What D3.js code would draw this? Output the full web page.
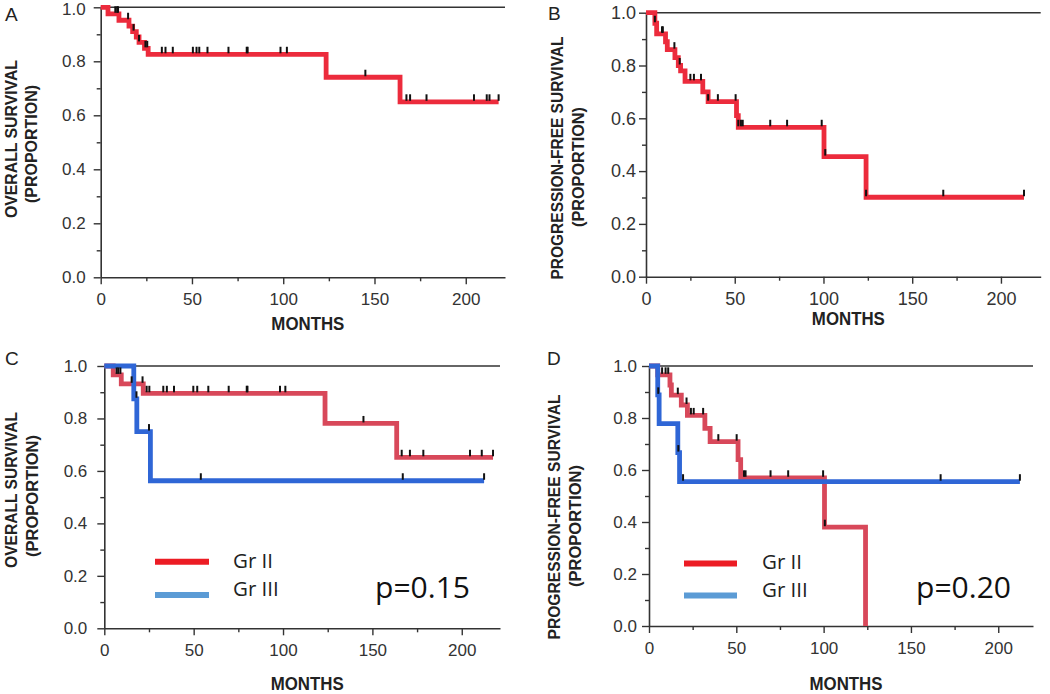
<!DOCTYPE html>
<html><head><meta charset="utf-8">
<script src="https://cdn.jsdelivr.net/npm/d3@7"></script>
<style>body{margin:0;background:#fff} svg{display:block}</style>
</head><body>
<svg id="chart" width="1050" height="694"></svg>
<script>
// ================= DATA =================
const xTickValues = [0, 50, 100, 150, 200];
const xMinorTicks = [25, 75, 125, 175];
const yTickValues = [0, 0.2, 0.4, 0.6, 0.8, 1.0];
const yMinorTicks = [0.1, 0.3, 0.5, 0.7, 0.9];
const legendLabels = ["Gr II", "Gr III"];
const pValues = ["p=0.15", "p=0.20"];
const panelLetters = ["A", "B", "C", "D"];
const xTitle = "MONTHS";
const yTitlesOS = ["OVERALL SURVIVAL", "(PROPORTION)"];
const yTitlesPFS = ["PROGRESSION-FREE SURVIVAL", "(PROPORTION)"];

// Panel A – overall survival, all patients
const osAllTimes = [4, 10, 15.5, 17.5, 19.5, 21, 24, 26, 123.5, 164];
const osAllSurv  = [0.976, 0.952, 0.93, 0.91, 0.89, 0.87, 0.848, 0.826, 0.741, 0.650];
const osAllEnd = 218;
const osAllCensor = [8, 9, 9.5, 15, 18, 21, 24.5, 25.5, 33.5, 35.5, 39.5, 50.5, 52.5, 54, 58.5, 70, 80, 80.5, 98.5, 102, 145, 167.5, 169.5, 178.5, 204.5, 211.5, 213, 218];

// Panel B – progression-free survival, all patients
const pfsAllTimes = [5, 6, 11, 12, 16.3, 18.2, 19.5, 22, 32, 35, 51, 52, 100.3, 124];
const pfsAllSurv  = [0.96, 0.92, 0.89, 0.86, 0.83, 0.80, 0.78, 0.74, 0.70, 0.663, 0.61, 0.566, 0.455, 0.301];
const pfsAllEnd = 213;
const pfsAllCensor = [5, 9, 9.5, 16, 19, 25, 27, 31, 35, 40.5, 50.5, 52, 53.5, 54.5, 70, 79.5, 99, 101, 124, 167.5, 213];

// Panel C – overall survival by grade
const osG2Times = [5, 9.5, 21.8, 123.5, 163.6];
const osG2Surv  = [0.966, 0.932, 0.896, 0.781, 0.652];
const osG2End = 217.5;
const osG2Censor = [6.9, 7.8, 9, 15.3, 21.4, 23.7, 25.2, 33, 35, 39, 49.8, 52, 58.2, 69.6, 79.7, 80.1, 98.3, 101.3, 145, 166.4, 171, 178.5, 204.6, 211.2, 217.5];
const osG3Times = [16.5, 18.2, 25.8];
const osG3Surv  = [0.875, 0.75, 0.5625];
const osG3End = 212.5;
const osG3Censor = [18, 25, 54, 167, 212.5];

// Panel D – progression-free survival by grade
const pfsG2Times = [5, 12, 12.8, 18.5, 22, 32, 35, 51, 52.5, 100.5, 124];
const pfsG2Surv  = [0.966, 0.927, 0.888, 0.85, 0.81, 0.76, 0.709, 0.64, 0.57, 0.38, 0];
const pfsG2End = 124;
const pfsG2Censor = [7.5, 9.5, 11, 16.5, 21.5, 24, 25.6, 31, 39.7, 50.2, 54.4, 55.3, 69.6, 79.7, 99.7, 100.7];
const pfsG3Times = [5, 5.8, 16.5, 17.5];
const pfsG3Surv  = [0.889, 0.778, 0.667, 0.555];
const pfsG3End = 212.4;
const pfsG3Censor = [5.3, 16.8, 19.5, 167, 212.4];

// ================= DRAWING =================
const svg = d3.select("#chart");
const RED_A = "#ec2b3c", RED_C = "#d8485a", BLUE = "#2f66d6";
const LEG_RED = "#ec1c24", LEG_BLUE = "#5b9bd5";

function curve(times, surv, end, censor, color){
  return {times, surv, end, censor, color};
}

const panels = [
  { letter: panelLetters[0], lx: 5, ly: 21,
    left: 100.7, right: 505, top: 7.3, bottom: 277.3, xMax: 221.5, yPad: 8, labelSize: 17,
    titles: yTitlesOS, tx: [17, 37], ty: [139, 144], tl: [158, 118], monthsY: 330,
    curves: [curve(osAllTimes, osAllSurv, osAllEnd, osAllCensor, RED_A)] },
  { letter: panelLetters[1], lx: 548, ly: 20,
    left: 646, right: 1040.7, top: 12.7, bottom: 276.7, xMax: 222.4, yPad: 3, labelSize: 18,
    titles: yTitlesPFS, tx: [563, 584], ty: [158, 167], tl: [243, 120], monthsY: 325,
    curves: [curve(pfsAllTimes, pfsAllSurv, pfsAllEnd, pfsAllCensor, RED_A)] },
  { letter: panelLetters[2], lx: 5, ly: 365,
    left: 104.3, right: 500, top: 366, bottom: 628.3, xMax: 221.4, yPad: 10, labelSize: 17,
    titles: yTitlesOS, tx: [17, 38], ty: [490, 496], tl: [156, 122], monthsY: 690,
    curves: [curve(osG2Times, osG2Surv, osG2End, osG2Censor, RED_C),
             curve(osG3Times, osG3Surv, osG3End, osG3Censor, BLUE)],
    legend: {x1: 155, x2: 209, y: [561.7, 595], textX: 233, textY: [568, 596]},
    p: {text: pValues[0], x: 375, y: 598} },
  { letter: panelLetters[3], lx: 547, ly: 365,
    left: 649, right: 1033, top: 366, bottom: 626, xMax: 219.9, yPad: 5, labelSize: 17,
    titles: yTitlesPFS, tx: [560, 581], ty: [517, 526], tl: [245, 122], monthsY: 690,
    curves: [curve(pfsG2Times, pfsG2Surv, pfsG2End, pfsG2Censor, RED_C),
             curve(pfsG3Times, pfsG3Surv, pfsG3End, pfsG3Censor, BLUE)],
    legend: {x1: 684, x2: 737, y: [563.5, 595.5], textX: 762, textY: [569, 597]},
    p: {text: pValues[1], x: 916, y: 598} }
];

const AX = "#333";

panels.forEach(P => {
  const g = svg.append("g");
  const x = d3.scaleLinear().domain([0, P.xMax]).range([P.left, P.right]);
  const y = d3.scaleLinear().domain([0, 1]).range([P.bottom, P.top]);

  // y axis (major + minor)
  g.append("g").attr("transform", `translate(${P.left},0)`)
    .call(d3.axisLeft(y).tickValues(yTickValues).tickFormat(d3.format(".1f"))
      .tickSize(7).tickSizeOuter(0).tickPadding(P.yPad))
    .selectAll(".tick text")
    .attr("dy", d => (d === 1 && P.top < 10) ? "0.42em" : "0.32em");
  g.append("g").attr("transform", `translate(${P.left},0)`)
    .call(d3.axisLeft(y).tickValues(yMinorTicks).tickFormat("").tickSize(4).tickSizeOuter(0))
    .select(".domain").remove();

  // x axis
  g.append("g").attr("transform", `translate(0,${P.bottom})`)
    .call(d3.axisBottom(x).tickValues(xTickValues).tickSize(7).tickSizeOuter(0).tickPadding(9));
  g.append("g").attr("transform", `translate(0,${P.bottom})`)
    .call(d3.axisBottom(x).tickValues(xMinorTicks).tickFormat("").tickSize(4).tickSizeOuter(0))
    .select(".domain").remove();

  g.selectAll(".domain").attr("stroke", AX).attr("stroke-width", 1.6);
  g.selectAll(".tick line").attr("stroke", AX).attr("stroke-width", 1.4);
  g.selectAll(".tick text").attr("fill", "#333")
    .style("font-family", "'Liberation Sans', Arial, sans-serif")
    .style("font-size", P.labelSize + "px");

  // top reference line at 1.0
  g.append("line").attr("x1", x(0)).attr("x2", x(P.xMax))
    .attr("y1", y(1)).attr("y2", y(1)).attr("stroke", AX).attr("stroke-width", 1.6);

  // curves
  const line = d3.line().x(d => x(d[0])).y(d => y(d[1])).curve(d3.curveStepAfter);
  P.curves.forEach(c => {
    const pts = [[0, 1]].concat(c.times.map((t, i) => [t, c.surv[i]]));
    pts.push([c.end, c.surv[c.surv.length - 1]]);
    g.append("path").datum(pts).attr("d", line)
      .attr("fill", "none").attr("stroke", c.color).attr("stroke-width", 4.8)
      .attr("stroke-linejoin", "miter");
  });
  // censor marks
  P.curves.forEach(c => {
    const level = t => {
      let s = 1;
      c.times.forEach((tt, i) => { if (tt <= t) s = c.surv[i]; });
      return s;
    };
    g.selectAll(null).data(c.censor).enter().append("line")
      .attr("x1", d => x(d)).attr("x2", d => x(d))
      .attr("y1", d => y(level(d)) - 7.5).attr("y2", d => y(level(d)) - 1)
      .attr("stroke", "#111").attr("stroke-width", 2);
  });

  // panel letter
  svg.append("text").attr("x", P.lx).attr("y", P.ly).text(P.letter)
    .style("font-family", "'Liberation Sans', Arial, sans-serif")
    .style("font-size", "19px").attr("fill", "#222");

  // y titles
  P.titles.forEach((t, i) => {
    svg.append("text")
      .attr("transform", `translate(${P.tx[i]},${P.ty[i]}) rotate(-90)`)
      .attr("text-anchor", "middle").text(t)
      .attr("textLength", P.tl[i]).attr("lengthAdjust", "spacingAndGlyphs")
      .style("font-family", "'Liberation Sans', Arial, sans-serif")
      .style("font-weight", "bold").style("font-size", "17px").attr("fill", "#222");
  });

  // x title
  svg.append("text").attr("x", (x(0) + x(P.xMax)) / 2 + 5).attr("y", P.monthsY)
    .attr("text-anchor", "middle").text(xTitle)
    .attr("textLength", 73).attr("lengthAdjust", "spacingAndGlyphs")
    .style("font-family", "'Liberation Sans', Arial, sans-serif")
    .style("font-weight", "bold").style("font-size", "17.5px").attr("fill", "#222");

  // legend + p-value
  if (P.legend) {
    const L = P.legend;
    [LEG_RED, LEG_BLUE].forEach((col, i) => {
      svg.append("line").attr("x1", L.x1).attr("x2", L.x2)
        .attr("y1", L.y[i]).attr("y2", L.y[i])
        .attr("stroke", col).attr("stroke-width", 6);
      svg.append("text").attr("x", L.textX).attr("y", L.textY[i]).text(legendLabels[i])
        .style("font-family", "'Open Sans', sans-serif").style("font-size", "20.5px")
        .attr("fill", "#222");
    });
    svg.append("text").attr("x", P.p.x).attr("y", P.p.y).text(P.p.text)
      .attr("textLength", 95).attr("lengthAdjust", "spacingAndGlyphs")
      .style("font-family", "'Open Sans', sans-serif").style("font-size", "29px")
      .attr("fill", "#111");
  }
});
</script>
</body></html>
